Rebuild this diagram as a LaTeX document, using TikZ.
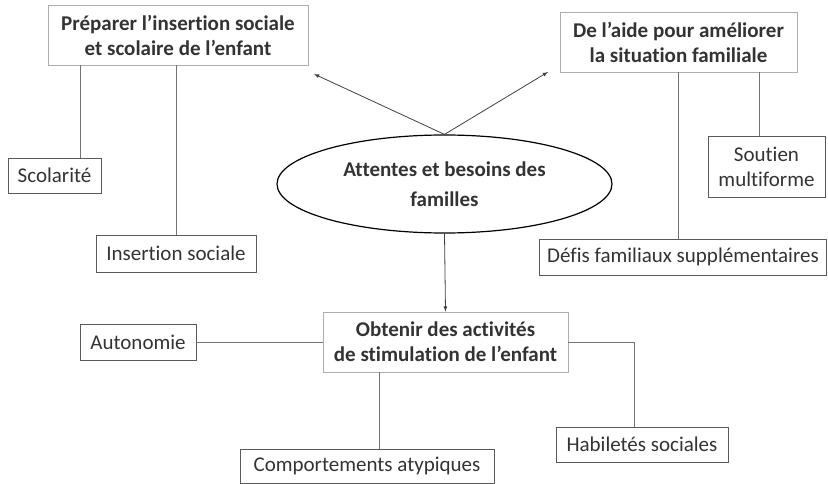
\documentclass[tikz,border=0pt]{standalone}
\usepackage{fontspec}
\setmainfont{Carlito}[Ligatures=NoCommon]
\usepackage{tikz}
\usetikzlibrary{positioning,calc,shapes.geometric,arrows}
\usetikzlibrary{arrows.meta}
\definecolor{boxgray}{rgb}{0.68, 0.68, 0.68}
\definecolor{leafgray}{rgb}{0.35, 0.35, 0.35}
\definecolor{linegray}{rgb}{0.45, 0.45, 0.45}
\definecolor{textgray}{rgb}{0.2, 0.2, 0.2}

\tikzset{
	mainbox/.style={rectangle,draw=boxgray,thick,align=center,inner sep=0pt,text=textgray,font=\fontsize{21}{25}\selectfont\bfseries},
	leafbox/.style={rectangle,draw=leafgray,thick,align=center,inner sep=0pt,text=textgray,font=\fontsize{21}{25}\selectfont},
	link/.style={linegray,thick},
	pointer/.style={black!75!white,-latex,thick}
}

\begin{document}
\begin{tikzpicture}[x=1pt,y=-1pt]

	\useasboundingbox (0,0) rectangle (828,484);

	\node[ellipse,draw,minimum width=335pt,minimum height=98pt,very thick,inner sep=0pt,align=center,font=\fontsize{21}{30}\selectfont\bfseries,text=textgray] (E) at (444.5,184) {Attentes et besoins des\\familles};

	\node[mainbox,minimum width=260pt,minimum height=60pt] (P) at (178,35) {Préparer l’insertion sociale\\et scolaire de l’enfant};
	\node[mainbox,minimum width=237pt,minimum height=60pt] (H) at (678.5,42) {De l’aide pour améliorer\\la situation familiale};
	\node[mainbox,minimum width=245pt,minimum height=60pt] (O) at (445.5,342) {Obtenir des activités\\de stimulation de l’enfant};

	\node[leafbox,minimum width=93pt,minimum height=35pt] (S1) at (54.5,175.5) {Scolarité};
	\node[leafbox,minimum width=160pt,minimum height=37pt] (S2) at (176,253.5) {Insertion sociale};
	\node[leafbox,minimum width=117pt,minimum height=61pt] (F1) at (766.5,166.5) {Soutien\\multiforme};
	\node[leafbox,minimum width=287pt,minimum height=36pt] (F2) at (683,257) {Défis familiaux supplémentaires};
	\node[leafbox,minimum width=116pt,minimum height=36pt] (A1) at (138,342) {Autonomie};
	\node[leafbox,minimum width=254pt,minimum height=34pt] (A2) at (367,466) {Comportements atypiques};
	\node[leafbox,minimum width=172pt,minimum height=35pt] (A3) at (642,444.5) {Habiletés sociales};

	\coordinate (tipP) at (314,74);
	\coordinate (tipH) at (548,72);

	% arrows out of the ellipse
	\draw[pointer] (E.north) -- (tipP);
	\draw[pointer] (E.north) -- (tipH);
	\draw[pointer] (E.south) -- (O.north);

	% plain links
	\draw[link] ([xshift=25.5pt]S1.north) -- ([xshift=25.5pt]S1.north |- P.south);
	\draw[link] (P.south -| S2.north) -- (S2.north);
	\draw[link] (H.south) -- (H.south |- F2.north);
	\draw[link] ([xshift=-7.5pt]F1.north) -- ([xshift=-7.5pt]F1.north |- H.south);
	\draw[link] (A1.east) -- (O.west);
	\draw[link] ([xshift=12pt]A2.north) -- ([xshift=12pt]A2.north |- O.south);
	\draw[link] (O.east) -| ([xshift=-8pt]A3.north);

\end{tikzpicture}
\end{document}
